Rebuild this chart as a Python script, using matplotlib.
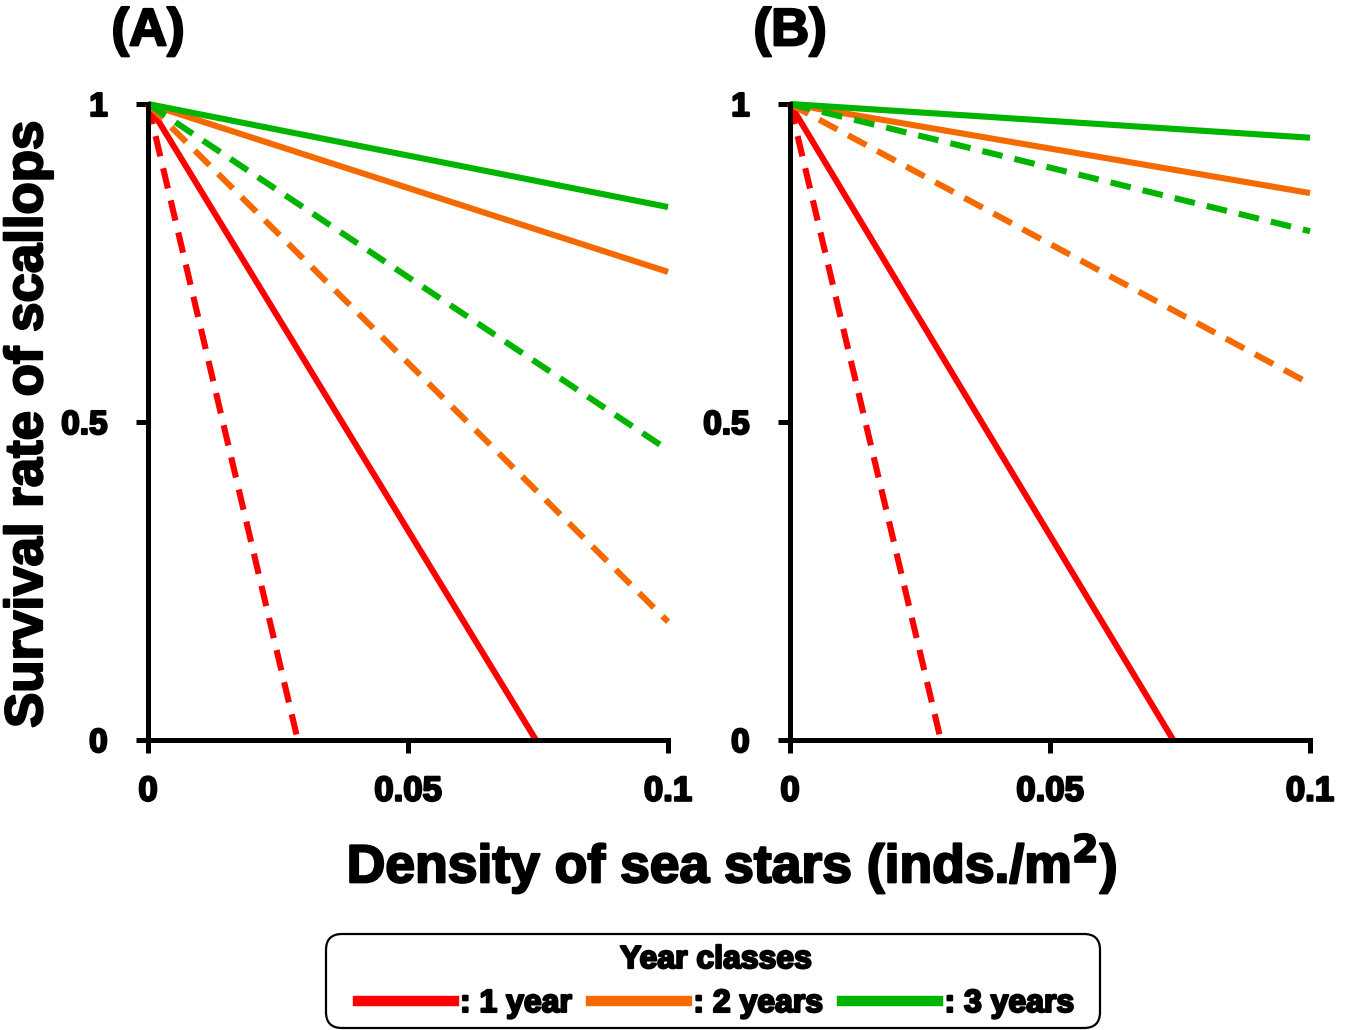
import matplotlib
matplotlib.use("Agg")
import matplotlib.pyplot as plt
from matplotlib.lines import Line2D
from matplotlib.patches import FancyBboxPatch
from matplotlib.transforms import IdentityTransform
import matplotlib.patheffects as pe

plt.rcParams['font.family'] = ['Liberation Sans', 'DejaVu Sans']
plt.rcParams['font.weight'] = 'bold'

# Data: straight survival lines, (x_start, x_end), (y_start, y_end)
panel_labels = ["(A)", "(B)"]
year_classes = [": 1 year", ": 2 years", ": 3 years"]
colors = ["#ff0000", "#f56a00", "#00b400"]

# Panel A
a_solid_x = [[0, 0.0746], [0, 0.1], [0, 0.1]]
a_solid_y = [[1, 0.0], [1, 0.736], [1, 0.838]]
a_dash_x = [[0, 0.0288], [0, 0.1], [0, 0.1]]
a_dash_y = [[1, 0.0], [1, 0.186], [1, 0.456]]
# Panel B
b_solid_x = [[0, 0.0737], [0, 0.1], [0, 0.1]]
b_solid_y = [[1, 0.0], [1, 0.86], [1, 0.947]]
b_dash_x = [[0, 0.029], [0, 0.1], [0, 0.1]]
b_dash_y = [[1, 0.0], [1, 0.56], [1, 0.80]]

xticks = [0, 0.05, 0.1]
xticklabels = ["0", "0.05", "0.1"]
yticks = [0, 0.5, 1]
yticklabels = ["0", "0.5", "1"]

heavy = [pe.withStroke(linewidth=1.6, foreground='black')]

fig = plt.figure(figsize=(13.51, 10.30), dpi=100)
W, H = 1351, 1030
axA = fig.add_axes([148 / W, 1 - 740 / H, 520 / W, 636 / H])
axB = fig.add_axes([790 / W, 1 - 740 / H, 520 / W, 636 / H])

panels = [
    (axA, a_solid_x, a_solid_y, a_dash_x, a_dash_y),
    (axB, b_solid_x, b_solid_y, b_dash_x, b_dash_y),
]
lw = 4.4
for i, (ax, sx, sy, dx, dy) in enumerate(panels):
    for k in range(3):
        ax.plot(dx[k], dy[k], color=colors[k], lw=lw, ls=(0, (3.4, 2.0)),
                clip_on=False, zorder=2 + k, solid_capstyle='butt')
        ax.plot(sx[k], sy[k], color=colors[k], lw=lw, ls='-',
                clip_on=False, zorder=2.5 + k, solid_capstyle='butt')
    ax.set_xlim(0, 0.1)
    ax.set_ylim(0, 1)
    ax.spines['top'].set_visible(False)
    ax.spines['right'].set_visible(False)
    for s in ['left', 'bottom']:
        ax.spines[s].set_linewidth(3.6)
        ax.spines[s].set_zorder(10)
    ax.set_xticks(xticks)
    ax.set_xticklabels(xticklabels)
    ax.set_yticks(yticks)
    ax.set_yticklabels(yticklabels)
    ax.tick_params(direction='out', length=9, width=3.6, labelsize=25)
    ax.tick_params(axis='x', pad=16)
    ax.tick_params(axis='y', pad=20, labelsize=24)
    for lab in ax.get_xticklabels() + ax.get_yticklabels():
        lab.set_fontweight('bold')
        lab.set_path_effects(heavy)
    ax.text(0, 1.075, panel_labels[i], transform=ax.transAxes, ha='center',
            va='bottom', fontsize=38, fontweight='bold', path_effects=heavy)

fig.text(28 / W, 1 - 425 / H, "Survival rate of scallops", rotation=90,
         ha='center', va='center', fontsize=38, fontweight='bold',
         path_effects=heavy)
fig.text(732 / W, 1 - 864 / H, "Density of sea stars (inds./m$^\\mathbf{2}$)",
         ha='center', va='center', fontsize=38.5, fontweight='bold',
         path_effects=heavy)

# legend frame (rounded box)
frame = FancyBboxPatch((326, H - 1028), 774, 94,
                       boxstyle="round,pad=0,rounding_size=16",
                       transform=IdentityTransform(), facecolor='white',
                       edgecolor='black', linewidth=1.6, zorder=0)
fig.patches.append(frame)

handles = [Line2D([0], [0], color=c, lw=7.5) for c in colors]
leg = fig.legend(handles, year_classes, loc='center',
                 bbox_to_anchor=(716 / W, 1 - 982 / H), ncol=3,
                 title="Year classes", fontsize=23,
                 title_fontproperties={'weight': 'bold', 'size': 23},
                 prop={'weight': 'bold', 'size': 23},
                 handlelength=3.0, handletextpad=0.2, columnspacing=0.6,
                 frameon=False, borderpad=0.2, labelspacing=0.15)
leg._legend_box.sep = 10
leg.get_title().set_path_effects(heavy)
for t in leg.get_texts():
    t.set_path_effects(heavy)

fig.savefig("out.png", dpi=100)
